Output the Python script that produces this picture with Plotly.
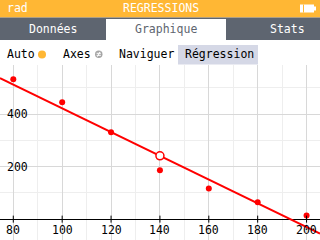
import numpy as np
import plotly.graph_objects as go

# Data
x_vals = [80, 100, 120, 140, 160, 180, 200]
y_vals = [533, 445, 331, 186, 117, 64, 14]
x_ticks = [80, 100, 120, 140, 160, 180, 200]
y_ticks = [200, 400]
tabs = ["Données", "Graphique", "Stats"]

W, H = 320, 240
ORANGE = "#FFB734"
TABGRAY = "#5E6570"
RED = "#FF0000"
FONT = "DejaVu Sans Mono"

def py(p):
    return 1 - p / H

def px(p):
    return p / W

xr = [74.56, 205.5]
yr = [-79.5, 589.2]

slope, icpt = np.polyfit(x_vals, y_vals, 1)
mx, my = float(np.mean(x_vals)), float(np.mean(y_vals))
lx = np.array(xr)
ly = slope * lx + icpt

fig = go.Figure()
fig.add_trace(go.Scatter(x=lx, y=ly, mode="lines", line=dict(color=RED, width=2),
                         hoverinfo="skip"))
fig.add_trace(go.Scatter(x=x_vals, y=y_vals, mode="markers",
                         marker=dict(color=RED, size=6)))
fig.add_trace(go.Scatter(x=[mx], y=[my], mode="markers",
                         marker=dict(color="white", size=8, line=dict(color=RED, width=1.5))))
fig.add_trace(go.Scatter(x=x_ticks, y=[0] * len(x_ticks), mode="markers",
                         marker=dict(symbol="line-ns", size=5, line=dict(color="black", width=1)),
                         hoverinfo="skip"))

shapes = []
# header
shapes.append(dict(type="rect", xref="paper", yref="paper", x0=0, x1=1, y0=py(17.5), y1=1,
                   fillcolor=ORANGE, line_width=0, layer="above"))
# tab bar
shapes.append(dict(type="rect", xref="paper", yref="paper", x0=0, x1=1, y0=py(40), y1=py(17.5),
                   fillcolor=TABGRAY, line_width=0, layer="above"))
shapes.append(dict(type="rect", xref="paper", yref="paper", x0=px(106), x1=px(226), y0=py(40), y1=py(19),
                   fillcolor="white", line_width=0, layer="above"))
# toolbar
shapes.append(dict(type="rect", xref="paper", yref="paper", x0=0, x1=1, y0=py(64.5), y1=py(40),
                   fillcolor="white", line_width=0, layer="above"))
shapes.append(dict(type="rect", xref="paper", yref="paper", x0=px(178), x1=px(258), y0=py(64.5), y1=py(45),
                   fillcolor="#D5D8E6", line_width=0, layer="above"))
# auto dot
shapes.append(dict(type="circle", xref="paper", yref="paper", x0=px(38), x1=px(46), y0=py(58.5), y1=py(50.5),
                   fillcolor=ORANGE, line_width=0, layer="above"))
# axes icon
shapes.append(dict(type="circle", xref="paper", yref="paper", x0=px(95), x1=px(102.5), y0=py(58), y1=py(50.5),
                   fillcolor="#A5A5A5", line_width=0, layer="above"))
for yy in (53.3, 55.3):
    shapes.append(dict(type="line", xref="paper", yref="paper", x0=px(96.6), x1=px(100.9), y0=py(yy), y1=py(yy),
                       line=dict(color="white", width=1), layer="above"))
shapes.append(dict(type="line", xref="paper", yref="paper", x0=px(97.5), x1=px(100), y0=py(56.6), y1=py(51.8),
                   line=dict(color="white", width=1), layer="above"))
# battery
shapes.append(dict(type="rect", xref="paper", yref="paper", x0=px(300), x1=px(314), y0=py(12.5), y1=py(4.5),
                   fillcolor="white", line_width=0, layer="above"))
shapes.append(dict(type="rect", xref="paper", yref="paper", x0=px(314), x1=px(316), y0=py(10.5), y1=py(6.5),
                   fillcolor="white", line_width=0, layer="above"))
shapes.append(dict(type="line", xref="paper", yref="paper", x0=px(303.5), x1=px(303.5), y0=py(12.5), y1=py(4.5),
                   line=dict(color=ORANGE, width=1), layer="above"))

ann = []
def text(t, x, y, color="black", size=11.5, anchor="left"):
    ann.append(dict(text=t, xref="paper", yref="paper", x=px(x), y=py(y), xanchor=anchor, yanchor="middle",
                    showarrow=False, font=dict(family=FONT, size=size, color=color)))

text("rad", 5, 8.5, "white")
text("REGRESSIONS", 160.5, 8.5, "white", anchor="center")
tab_centers = [53, 166, 287]
tab_colors = ["white", TABGRAY, "white"]
for t, c, col in zip(tabs, tab_centers, tab_colors):
    text(t, c, 28.5, col, anchor="center")
text("Auto", 5, 54.5)
text("Axes", 61, 54.5)
text("Naviguer", 117, 54.5)
text("Régression", 183, 54.5)

for t in x_ticks:
    ann.append(dict(text=str(t), xref="x", yref="y", x=t, y=0, xanchor="center", yanchor="top",
                    yshift=-1.5, showarrow=False, font=dict(family=FONT, size=11.5, color="black")))
for t in y_ticks:
    ann.append(dict(text=str(t), xref="paper", yref="y", x=px(4.5), y=t, xanchor="left", yanchor="middle",
                    showarrow=False, font=dict(family=FONT, size=11.5, color="black")))

fig.update_layout(
    width=W, height=H, margin=dict(l=0, r=0, t=0, b=0),
    paper_bgcolor="white", plot_bgcolor="white", showlegend=False,
    shapes=shapes, annotations=ann,
    xaxis=dict(range=xr, domain=[0, 1], showticklabels=False, ticks="", dtick=20, tick0=0,
               showgrid=True, gridcolor="#D8D8D8", gridwidth=1, zeroline=False, showline=False,
               minor=dict(dtick=10, tick0=0, showgrid=True, gridcolor="#EEEEEE", gridwidth=1)),
    yaxis=dict(range=yr, domain=[0, py(64.5)], showticklabels=False, ticks="", dtick=200, tick0=0,
               showgrid=True, gridcolor="#D8D8D8", gridwidth=1,
               zeroline=True, zerolinecolor="black", zerolinewidth=1, showline=False,
               minor=dict(dtick=100, tick0=0, showgrid=True, gridcolor="#EEEEEE", gridwidth=1)),
)

fig.write_html("out.html")
